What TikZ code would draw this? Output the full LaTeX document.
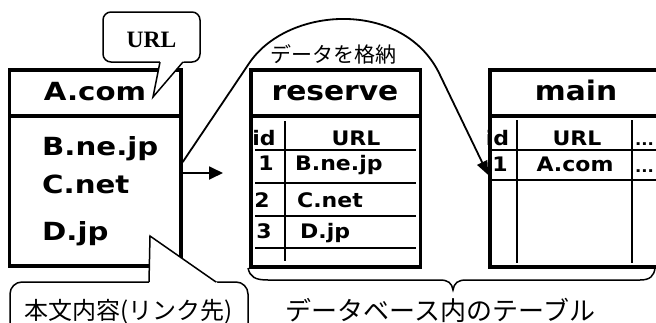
\documentclass[tikz,border=0pt]{standalone}
\usepackage{fontspec}
\usetikzlibrary{arrows.meta,calc}
\newfontfamily\gwA[FakeStretch=1.17]{DejaVu Sans}
\newfontfamily\gwB[FakeStretch=1.1]{DejaVu Sans}
\newfontfamily\jpf{Noto Sans CJK JP}
\newfontfamily\tms{Liberation Serif}
\begin{document}
\begin{tikzpicture}[x=1pt,y=-1pt,line join=miter,
  frame/.style={draw,line width=3.5pt,inner sep=0pt},
  sepline/.style={line width=3.5pt},
  gridline/.style={line width=1.6pt},
  bigtxt/.style={font=\gwA\bfseries\fontsize{25}{25}\selectfont,inner sep=0pt,anchor=base west},
  hdr/.style={font=\gwB\bfseries\fontsize{27}{27}\selectfont,inner sep=0pt,anchor=base},
  cell/.style={font=\gwB\bfseries\fontsize{20}{20}\selectfont,inner sep=0pt,anchor=base},
  dots/.style={font=\gwB\bfseries\fontsize{15}{15}\selectfont,inner sep=0pt,anchor=base west},
  jp/.style={inner sep=0pt,anchor=base},
  bubble/.style={draw,fill=white,line width=1.5pt},
  conn/.style={line width=1.8pt}]
\useasboundingbox (0,0) rectangle (656,322);
\fill[white] (0,0) rectangle (656,322);
\clip (0,0) rectangle (656,322);

% left page box
\node[frame,minimum width=171.5pt,minimum height=196pt] (page) at (95.25,168) {};
\draw[sepline] (9.5,116) -- (181,116);
\node[bigtxt,anchor=base] (acom) at (95,100) {A.com};
\node[bigtxt] (bne) at (42,155) {B.ne.jp};
\node[bigtxt] (cnet) at (42,193) {C.net};
\node[bigtxt] (djp) at (42,240) {D.jp};

% URL bubble
\node[bubble,rounded corners=8pt,minimum width=97pt,minimum height=50pt] (urlb) at (151.5,37) {};
\fill[white] (160.4,60) -- (184.7,60) -- (153,97) -- cycle;
\draw[line width=1.5pt] (160,62) -- (153,97) -- (183,62);
\node[font=\tms\bfseries\fontsize{23.5}{23.5}\selectfont,inner sep=0pt,anchor=base] (urlt) at (151.5,47) {URL};

% bottom bubble
\node[bubble,rounded corners=12pt,minimum width=238pt,minimum height=60pt] (noteb) at (129,312) {};
\fill[white] (149.2,284) -- (219,284) -- (150,236) -- cycle;
\draw[line width=1.5pt] (149,282) -- (150,236) -- (216,282);
\node[jp,font=\jpf\fontsize{24}{24}\selectfont] (notet) at (129,319) {本文内容(リンク先)};

% reserve table
\node[frame,minimum width=169.5pt,minimum height=197pt] (reserve) at (335.75,168.5) {};
\draw[sepline] (251,116) -- (420.5,116);
\node[hdr] (rtitle) at (335,100) {reserve};
\draw[gridline] (285,121) -- (285,261);
\foreach \yy in {150,183,216,248} \draw[gridline] (255,\yy) -- (416,\yy);
\node[cell] (rid) at (264,145) {id};
\node[cell] (rurl) at (356,145) {URL};
\node[cell] (r1) at (266,170) {1};
\node[cell,anchor=base west] (r1u) at (295,170) {B.ne.jp};
\node[cell] (r2) at (262,207) {2};
\node[cell,anchor=base west] (r2u) at (297,207) {C.net};
\node[cell] (r3) at (264,238) {3};
\node[cell,anchor=base west] (r3u) at (300,238) {D.jp};

% main table
\node[frame,minimum width=178pt,minimum height=197pt] (main) at (579,168.5) {};
\draw[sepline] (490,116) -- (670,116);
\node[hdr] (mtitle) at (576,100) {main};
\draw[gridline] (517,120) -- (517,263);
\draw[gridline] (632,120) -- (632,263);
\draw[gridline] (490,150) -- (670,150);
\draw[gridline] (490,180) -- (670,180);
\node[cell] (mid) at (497.5,145) {id};
\node[cell] (murl) at (577,145) {URL};
\node[dots] (mdots) at (635,145) {...};
\node[cell] (m1) at (500,171) {1};
\node[cell] (m1u) at (575,171) {A.com};
\node[dots] (m1d) at (635,172) {...};

% connectors
\coordinate (hs) at ($(page.east)+(0,5)$);
\coordinate (he) at (223,173);
\draw[conn,-{Triangle[length=14pt,width=13pt]}] (hs) -- (he);
\coordinate (cs) at ($(page.east)+(0,-6)$);
\coordinate (ce) at ($(main.west)+(0,6.5)$);
\draw[conn,-{Triangle[length=14pt,width=11pt]}] (cs) -- (250,62) .. controls (290,5) and (405,0) .. (440,75) -- (ce);
\node[jp,font=\jpf\fontsize{21}{21}\selectfont] (store) at (333.5,62.5) {データを格納};

% brace
\draw[line width=1.5pt] (248,268) .. controls (250,277) and (255,280) .. (268,280) -- (440,280)
  .. controls (448,280) and (452,283) .. (453,290)
  .. controls (454,283) and (458,280) .. (466,280) -- (640,280)
  .. controls (650,280) and (654,276) .. (655,268);
\node[jp,font=\jpf\fontsize{26}{26}\selectfont] (dbl) at (440.5,320) {データベース内のテーブル};
\end{tikzpicture}
\end{document}
